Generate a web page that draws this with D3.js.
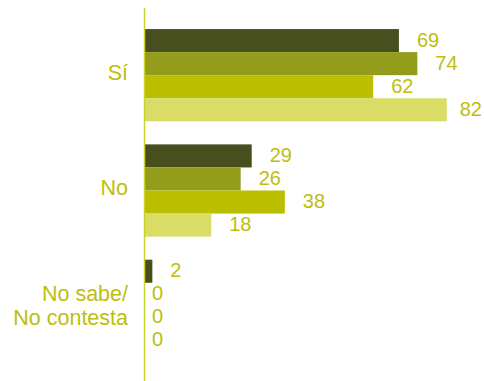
<!DOCTYPE html>
<html>
<head>
<meta charset="utf-8">
<script src="https://cdn.jsdelivr.net/npm/d3@7"></script>
<style>
  html, body { margin: 0; padding: 0; background: #fff; }
  svg { display: block; }
  text { font-family: "Liberation Sans", Arial, Helvetica, sans-serif; fill: #bdbe0e; }
</style>
</head>
<body>
<svg id="chart" width="484" height="381"></svg>
<script>
// Answers (one group of bars per answer)
const categories = ["Sí", "No", "No sabe/\nNo contesta"];
// Four series shown per answer, top to bottom
const seriesNames = ["s1", "s2", "s3", "s4"];
const series1 = [69, 29, 2];
const series2 = [74, 26, 0];
const series3 = [62, 38, 0];
const series4 = [82, 18, 0];

const seriesValues = [series1, series2, series3, series4];
const colors = ["#474f1f", "#949c1c", "#bcbe00", "#d9dd66"];

const W = 484, H = 381;
const axisX = 145;
const svg = d3.select("#chart");

const x = d3.scaleLinear().domain([0, 100]).range([axisX, axisX + 368]);

const y = d3.scaleBand()
  .domain(categories)
  .range([6, 375])
  .paddingInner(0.2)
  .paddingOuter(0.2);

const ySub = d3.scaleBand()
  .domain(seriesNames)
  .range([0, y.bandwidth()])
  .padding(0);

const rows = categories.map((c, i) => ({
  cat: c,
  vals: seriesNames.map((s, k) => ({ key: s, value: seriesValues[k][i], color: colors[k] }))
}));

const g = svg.selectAll("g.group")
  .data(rows)
  .join("g")
  .attr("class", "group")
  .attr("transform", d => `translate(0,${y(d.cat)})`);

g.selectAll("rect")
  .data(d => d.vals)
  .join("rect")
  .attr("x", x(0))
  .attr("y", d => ySub(d.key))
  .attr("width", d => x(d.value) - x(0))
  .attr("height", ySub.bandwidth())
  .attr("fill", d => d.color);

// Value labels to the right of each bar, kept inside the canvas
g.selectAll("text.val")
  .data(d => d.vals)
  .join("text")
  .attr("class", "val")
  .attr("y", d => ySub(d.key) + ySub.bandwidth() / 2)
  .attr("dy", "0.3em")
  .attr("font-size", 20)
  .text(d => d.value)
  .attr("x", function (d) {
    const w = this.getComputedTextLength();
    const pos = x(d.value) + (d.value === 0 ? 7 : 18);
    return Math.min(pos, W - 2 - w);
  });

// Category labels on the left, right-aligned
const labels = svg.selectAll("text.cat")
  .data(categories)
  .join("text")
  .attr("class", "cat")
  .attr("text-anchor", "end")
  .attr("font-size", 21.5)
  .attr("transform", d => `translate(128,${y(d) + y.bandwidth() / 2})`);

labels.each(function (d) {
  const lines = d.split("\n");
  const t = d3.select(this);
  const lh = 24;
  const off = lines.length === 1 ? -3 : -(lines.length - 1) * lh / 2;
  lines.forEach((ln, i) => {
    t.append("tspan")
      .attr("x", 0)
      .attr("y", off + i * lh)
      .attr("dy", "0.35em")
      .text(ln);
  });
});

// Vertical baseline
svg.append("line")
  .attr("x1", axisX - 0.5).attr("x2", axisX - 0.5)
  .attr("y1", 8).attr("y2", H)
  .attr("stroke", "#cdd22a")
  .attr("stroke-width", 1.5);
</script>
</body>
</html>
